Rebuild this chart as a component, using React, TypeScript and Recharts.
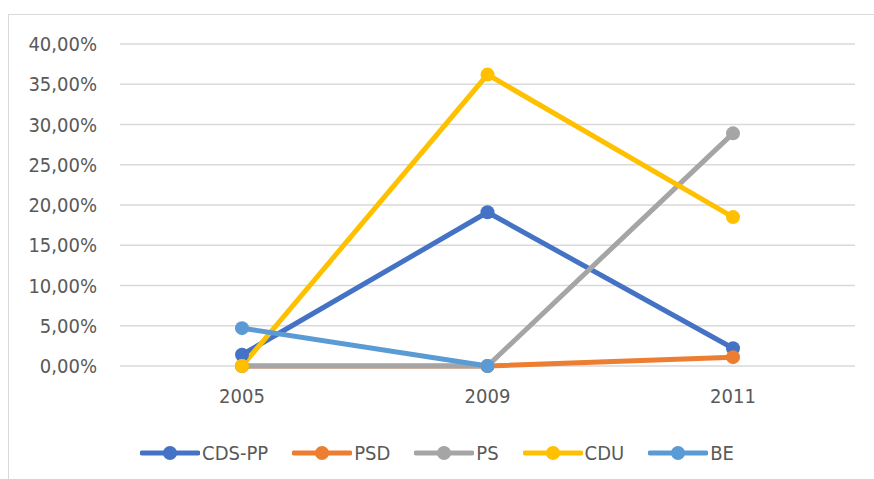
import { LineChart, Line, XAxis, YAxis, CartesianGrid } from "recharts";

const YEARS = ["2005", "2009", "2011"];
const CDS_PP = [1.4, 19.1, 2.2];
const PSD = [0, 0, 1.1];
const PS = [0, 0, 28.9];
const CDU = [0, 36.2, 18.5];
const BE = [4.7, 0, null];
const Y_TICKS = [0, 5, 10, 15, 20, 25, 30, 35, 40];

const SERIES = [
  { key: "CDS-PP", values: CDS_PP, color: "#4472C4" },
  { key: "PSD", values: PSD, color: "#ED7D31" },
  { key: "PS", values: PS, color: "#A5A5A5" },
  { key: "CDU", values: CDU, color: "#FFC000" },
  { key: "BE", values: BE, color: "#5B9BD5" },
];

const data = YEARS.map((year, i) => {
  const row: Record<string, any> = { year };
  SERIES.forEach(s => { row[s.key] = s.values[i]; });
  return row;
});

const FONT = "'Liberation Sans Narrow', 'DejaVu Sans Condensed', 'Liberation Sans', sans-serif";

function pct(v: number): string {
  return v.toFixed(2).replace(".", ",") + "%";
}

function LegendBox() {
  return (
    <div style={{ position: "absolute", left: 0, top: 441, width: 874, display: "flex", justifyContent: "center", gap: 24, fontFamily: FONT, fontSize: 20, color: "#595959" }}>
      {SERIES.map(s => (
        <div key={s.key} style={{ display: "flex", alignItems: "center" }}>
          <svg width={60} height={18}>
            <line x1={2} y1={9} x2={58} y2={9} stroke={s.color} strokeWidth={5} strokeLinecap="round" />
            <circle cx={30} cy={9} r={7} fill={s.color} />
          </svg>
          <span style={{ marginLeft: 2 }}>{s.key}</span>
        </div>
      ))}
    </div>
  );
}

export default function App() {
  return (
    <div style={{ position: "fixed", left: 0, top: 0, width: 874, height: 479, background: "#fff", overflow: "hidden" }}>
      <div style={{ position: "absolute", left: 8, top: 14, width: 900, height: 500, border: "1.5px solid #d9d9d9" }} />
      <LineChart width={874} height={479} data={data} margin={{ top: 44, right: 19, bottom: 53, left: 0 }}>
        <CartesianGrid vertical={false} stroke="#d9d9d9" strokeWidth={1.5} />
        <XAxis
          dataKey="year"
          axisLine={false}
          tickLine={false}
          height={60}
          tickSize={0}
          tickMargin={23}
          padding={{ left: 122, right: 122 }}
          tick={{ fill: "#595959", fontSize: 20, fontFamily: FONT }}
        />
        <YAxis
          domain={[0, 40]}
          ticks={Y_TICKS}
          width={120}
          axisLine={false}
          tickLine={false}
          tickSize={0}
          tickMargin={23}
          tickFormatter={pct}
          tick={{ fill: "#595959", fontSize: 20, fontFamily: FONT }}
        />
        {SERIES.map(s => (
          <Line
            key={s.key}
            dataKey={s.key}
            stroke={s.color}
            strokeWidth={5}
            dot={{ r: 7, fill: s.color, stroke: "none" }}
            activeDot={false}
            isAnimationActive={false}
          />
        ))}
      </LineChart>
      <LegendBox />
    </div>
  );
}
